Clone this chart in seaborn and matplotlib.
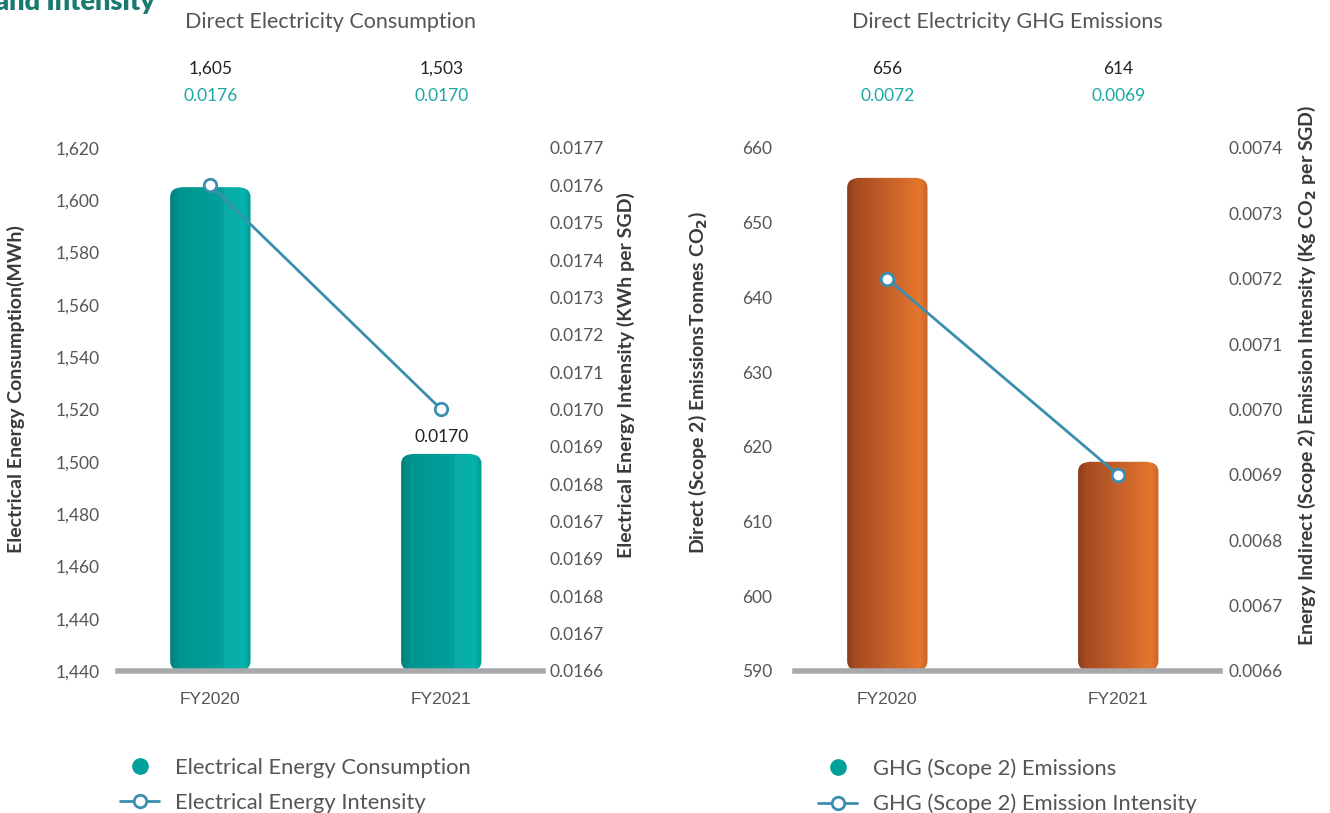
import numpy as np
import pandas as pd
import seaborn as sns
import matplotlib.pyplot as plt
from matplotlib.patches import FancyBboxPatch
from matplotlib.colors import LinearSegmentedColormap
from matplotlib.lines import Line2D

# ---- data ----
years = ["FY2020", "FY2021"]

consumption = [1605, 1503]                 # MWh
consumption_labels = ["1,605", "1,503"]
elec_intensity = [0.0176, 0.0170]          # KWh per SGD
elec_intensity_labels = ["0.0176", "0.0170"]

ghg_emissions = [656, 618]                 # bar heights as drawn
ghg_labels = ["656", "614"]
ghg_intensity = [0.0072, 0.0069]
ghg_intensity_labels = ["0.0072", "0.0069"]

cons_ticks = [1620, 1600, 1580, 1560, 1540, 1520, 1500, 1480, 1460, 1440, 1420]
cons_ticklabels = ["1,620", "1,600", "1,580", "1,560", "1,540", "1,520", "1,500",
                   "1,480", "1,460", "1,440", "1,440"]
eint_ticks = [0.0177, 0.0176, 0.0175, 0.0174, 0.0173, 0.0172, 0.0171, 0.0170,
              0.0169, 0.0168, 0.0167, 0.0166, 0.0165, 0.0164, 0.0163]
eint_ticklabels = ["0.0177", "0.0176", "0.0175", "0.0174", "0.0173", "0.0172", "0.0171",
                   "0.0170", "0.0169", "0.0168", "0.0167", "0.0169", "0.0168", "0.0167",
                   "0.0166"]
ghg_ticks = [660, 650, 640, 630, 620, 610, 600, 590]
gint_ticks = [0.0074, 0.0073, 0.0072, 0.0071, 0.0070, 0.0069, 0.0068, 0.0067, 0.0066]

TEAL = "#00a19b"
TEAL_TXT = "#1aa8a3"
LINE = "#3a8fae"
GREY_TXT = "#555555"
AXIS_LBL = "#3a3a3a"
BASE = "#a7a9ac"

teal_cmap = LinearSegmentedColormap.from_list(
    "teal", [(0, "#007f7a"), (0.12, "#00958f"), (0.5, "#009d98"), (0.66, "#03a29d"),
             (0.67, "#0aaca6"), (0.92, "#05b3ab"), (1, "#029690")])
orange_cmap = LinearSegmentedColormap.from_list(
    "orange", [(0, "#8a3c1c"), (0.1, "#a64a21"), (0.5, "#c4602a"), (0.9, "#e5772e"),
               (1, "#c8652a")])

sns.set_style("white")
plt.rcParams["font.family"] = ["Lato", "DejaVu Sans"]

fig = plt.figure(figsize=(13.3, 8.13), dpi=100)


def rounded_gradient_bars(ax, cmap, rx=13, ry=10):
    """Replace seaborn bars with rounded, cylinder-shaded ones."""
    fig.canvas.draw()
    p0 = ax.transData.transform((0, 0))
    sx = ax.transData.transform((1, 0))[0] - p0[0]
    sy = ax.transData.transform((0, 1))[1] - p0[1]
    bottom = ax.get_ylim()[0]
    xlim, ylim = ax.get_xlim(), ax.get_ylim()
    grad = np.linspace(0, 1, 256).reshape(1, -1)
    for bar in list(ax.patches):
        x, w, top = bar.get_x(), bar.get_width(), bar.get_height()
        bar.remove()
        rs = rx / sx
        box = FancyBboxPatch((x, bottom), w, top - bottom,
                             boxstyle=f"round,pad=0,rounding_size={rs}",
                             mutation_aspect=(ry / sy) / rs,
                             facecolor="none", edgecolor="none")
        ax.add_patch(box)
        im = ax.imshow(grad, extent=[x, x + w, bottom, top], aspect="auto",
                       cmap=cmap, zorder=2)
        im.set_clip_path(box)
    ax.set_xlim(xlim)
    ax.set_ylim(ylim)


def panel(left, bars, bar_labels, ticks, ticklabels, line, line_labels, rticks,
          rticklabels, title, ylabel, rylabel, cmap, lpad, rpad, lab_pos, rlab_pos):
    ax = fig.add_axes([left, 0.1747, 0.3195, 0.6433])
    sns.barplot(x=years, y=bars, ax=ax, width=0.348, color=TEAL)
    ax.set_ylim(ticks[-1], ticks[0])
    ax.set_xlim(-0.4, 1.44)
    ax.set_yticks(ticks)
    ax.set_yticklabels(ticklabels)
    ax.tick_params(axis="y", length=0, pad=lpad, labelsize=12.5, labelcolor=GREY_TXT)
    ax.tick_params(axis="x", length=0, pad=15, labelsize=12.5, labelcolor=GREY_TXT)
    for lbl in ax.get_xticklabels():
        lbl.set_fontfamily("Liberation Sans")
    for s in ["top", "left", "right"]:
        ax.spines[s].set_visible(False)
    ax.spines["bottom"].set_color(BASE)
    ax.spines["bottom"].set_linewidth(4)
    ax.spines["bottom"].set_zorder(5)
    ax.set_ylabel(ylabel, fontsize=14, fontweight="bold", color=AXIS_LBL, va="center")
    ax.yaxis.set_label_coords(*lab_pos)

    ax2 = ax.twinx()
    sns.lineplot(x=years, y=line, ax=ax2, color=LINE, lw=2, marker="o", ms=9,
                 mfc="white", mec=LINE, mew=2, zorder=6)
    ax2.set_ylim(rticks[-1], rticks[0])
    ax2.set_xlim(-0.4, 1.44)
    ax2.set_yticks(rticks)
    ax2.set_yticklabels(rticklabels)
    ax2.tick_params(axis="y", length=0, pad=rpad, labelsize=12.5, labelcolor=GREY_TXT)
    for s in ax2.spines.values():
        s.set_visible(False)
    ax2.set_ylabel(rylabel, fontsize=14, fontweight="bold", color=AXIS_LBL,
                   va="center", rotation=90)
    ax2.yaxis.set_label_coords(*rlab_pos)

    trans = ax.get_xaxis_transform()
    for i in range(len(years)):
        ax.text(i, 1.151, bar_labels[i], transform=trans, ha="center", va="center",
                fontsize=12.5, color="#222222")
        ax.text(i, 1.0994, line_labels[i], transform=trans, ha="center", va="center",
                fontsize=12.5, color=TEAL_TXT)
    ax.text(0.5, 1.241, title, transform=ax.transAxes, ha="center", va="center",
            fontsize=15.5, color=GREY_TXT)
    rounded_gradient_bars(ax, cmap)
    return ax, ax2


axL, axL2 = panel(0.0887, consumption, consumption_labels, cons_ticks, cons_ticklabels,
                  elec_intensity, elec_intensity_labels, eint_ticks, eint_ticklabels,
                  "Direct Electricity Consumption", "Electrical Energy Consumption(MWh)",
                  "Electrical Energy Intensity (KWh per SGD)", teal_cmap, 13, 4.5,
                  (-0.24, 0.539), (1.195, 0.566))
axL2.annotate(elec_intensity_labels[1], (1, elec_intensity[1]), xytext=(0, -20),
              textcoords="offset points", ha="center", va="center", fontsize=12.5,
              color="#222222")

axR, axR2 = panel(0.5977, ghg_emissions, ghg_labels, ghg_ticks,
                  [str(t) for t in ghg_ticks], ghg_intensity, ghg_intensity_labels,
                  gint_ticks, [f"{t:.4f}" for t in gint_ticks],
                  "Direct Electricity GHG Emissions",
                  r"Direct (Scope 2) EmissionsTonnes CO$_\mathbf{2}$)",
                  r"Energy Indirect (Scope 2) Emission Intensity (Kg CO$_\mathbf{2}$ per SGD)",
                  orange_cmap, 16.5, 6, (-0.228, 0.551), (1.205, 0.566))

# cut-off heading from the page above
fig.text(-0.004, 0.9877, "and Intensity", fontsize=19.5, fontweight="heavy",
         color="#1b7a70", va="baseline", ha="left")

# legends
for axx, labels, xpos in [(axL, ["Electrical Energy Consumption", "Electrical Energy Intensity"], 0.0902),
                          (axR, ["GHG (Scope 2) Emissions", "GHG (Scope 2) Emission Intensity"], 0.6150)]:
    handles = [Line2D([], [], marker="o", linestyle="none", color=TEAL, ms=11),
               Line2D([], [], color=LINE, lw=2, marker="o", mfc="white", mec=LINE,
                      mew=2, ms=9)]
    fig.legend(handles, labels, loc="upper left", bbox_to_anchor=(xpos, 0.0675),
               frameon=False, fontsize=15.8, labelcolor=GREY_TXT, handlelength=1.8,
               handletextpad=0.7, labelspacing=0.68, borderpad=0, borderaxespad=0)

fig.savefig("out.png", dpi=100)
